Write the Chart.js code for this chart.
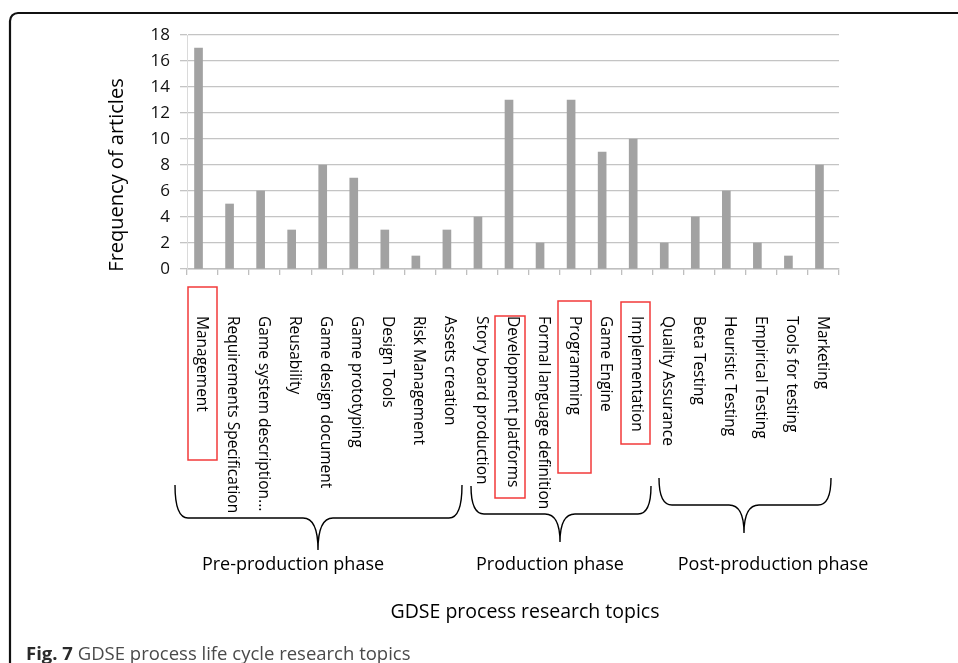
<!DOCTYPE html>
<html><head><meta charset="utf-8">
<script src="https://cdn.jsdelivr.net/npm/chart.js@4.4.1/dist/chart.umd.min.js"></script>
<style>html,body{margin:0;padding:0;background:#fff;overflow:hidden}canvas{display:block}</style>
</head><body>
<canvas id="c" width="958" height="663"></canvas>
<script>
const categories = ["Management","Requirements Specification","Game system description...","Reusability","Game design document","Game prototyping","Design Tools","Risk Management","Assets creation","Story board production","Development platforms","Formal language definition","Programming","Game Engine","Implementation","Quality Assurance","Beta Testing","Heuristic Testing","Empirical Testing","Tools for testing","Marketing"];
const frequency = [17,5,6,3,8,7,3,1,3,4,13,2,13,9,10,2,4,6,2,1,8];
const yTicks = [0,2,4,6,8,10,12,14,16,18];
const highlighted = ["Management","Development platforms","Programming","Implementation"];
const phases = ["Pre-production phase","Production phase","Post-production phase"];
const yAxisTitle = "Frequency of articles";
const xAxisTitle = "GDSE process research topics";
const captionBold = "Fig. 7";
const captionText = "GDSE process life cycle research topics";

const FONT = "'Open Sans', 'DejaVu Sans', sans-serif";

const decor = {
  id: 'decor',
  afterDraw(chart) {
    const ctx = chart.ctx, xs = chart.scales.x;
    ctx.save();
    // rotated category labels
    ctx.fillStyle = '#000';
    ctx.font = "15.5px " + FONT;
    ctx.textAlign = 'left';
    ctx.textBaseline = 'middle';
    categories.forEach((c, i) => {
      const x = xs.getPixelForValue(i);
      ctx.save();
      ctx.translate(x, 316);
      ctx.rotate(Math.PI / 2);
      ctx.fillText(c, 0, 1);
      ctx.restore();
    });
    // red highlight boxes
    const boxes = {"Management":[188,287,217,460],"Development platforms":[495,316,525,498],"Programming":[558,301,591,473],"Implementation":[621,302,650,444]};
    ctx.strokeStyle = '#f23a3a';
    ctx.lineWidth = 1.5;
    highlighted.forEach(h => {
      const b = boxes[h];
      ctx.strokeRect(b[0], b[1], b[2]-b[0], b[3]-b[1]);
    });
    // braces
    const braces = [
      {l:175, r:462, top:485, y:518, tx:318, ty:550},
      {l:471, r:651, top:486, y:514, tx:560, ty:542},
      {l:659, r:831, top:478, y:505, tx:744, ty:533}
    ];
    ctx.strokeStyle = '#000';
    ctx.lineWidth = 1.4;
    braces.forEach(b => {
      const rad = 13;
      ctx.beginPath();
      ctx.moveTo(b.l, b.top);
      ctx.quadraticCurveTo(b.l, b.y, b.l + rad, b.y);
      ctx.lineTo(b.tx - 15, b.y);
      ctx.quadraticCurveTo(b.tx, b.y, b.tx, b.ty);
      ctx.quadraticCurveTo(b.tx, b.y, b.tx + 15, b.y);
      ctx.lineTo(b.r - rad, b.y);
      ctx.quadraticCurveTo(b.r, b.y, b.r, b.top);
      ctx.stroke();
    });
    // phase labels
    ctx.fillStyle = '#000';
    ctx.font = "18px " + FONT;
    ctx.textAlign = 'center';
    ctx.textBaseline = 'middle';
    const phaseX = [293, 550, 773];
    phases.forEach((p, i) => ctx.fillText(p, phaseX[i], 565));
    // x axis title
    ctx.font = "19.5px " + FONT;
    ctx.fillText(xAxisTitle, 525, 612);
    // y axis title
    ctx.save();
    ctx.translate(117, 175);
    ctx.rotate(-Math.PI / 2);
    ctx.font = "20px " + FONT;
    ctx.fillText(yAxisTitle, 0, 0);
    ctx.restore();
    // caption
    ctx.textAlign = 'left';
    ctx.textBaseline = 'alphabetic';
    ctx.fillStyle = '#2a2a2a';
    ctx.font = "bold 18.5px " + FONT;
    ctx.fillText(captionBold, 26, 660);
    const w = ctx.measureText(captionBold + " ").width;
    ctx.font = "18.5px " + FONT;
    ctx.fillStyle = '#4a4a4a';
    ctx.fillText(captionText, 26 + w, 660);
    // frame
    ctx.strokeStyle = '#111';
    ctx.lineWidth = 2.2;
    ctx.beginPath();
    ctx.moveTo(10, 663);
    ctx.lineTo(10, 21);
    ctx.arcTo(10, 13, 18, 13, 8);
    ctx.lineTo(958, 13);
    ctx.stroke();
    ctx.restore();
  }
};

new Chart(document.getElementById('c'), {
  type: 'bar',
  data: {
    labels: categories,
    datasets: [
      {label: 'Frequency', data: frequency, backgroundColor: '#a2a2a2', barThickness: 8},
      {label: 'spacer', data: []}
    ]
  },
  options: {
    responsive: false,
    animation: false,
    devicePixelRatio: 1,
    layout: {padding: {top: 35, left: 0, right: 119, bottom: 0}},
    plugins: {legend: {display: false}, tooltip: {enabled: false}},
    scales: {
      x: {
        grid: {display: true, drawOnChartArea: false, drawTicks: true, tickLength: 6, color: '#bfbfbf', lineWidth: 1.3, offset: true},
        border: {display: true, color: '#bfbfbf', width: 1.5},
        ticks: {display: false},
        afterFit(s) { s.height = 663 - 269; }
      },
      y: {
        min: 0, max: 18,
        afterBuildTicks(s) { s.ticks = yTicks.map(v => ({value: v})); },
        ticks: {padding: 10, color: '#111', font: {family: FONT, size: 17}},
        grid: {color: '#c4c4c4', lineWidth: 1.3, tickLength: 7, drawTicks: true},
        border: {display: true, color: '#dadada', width: 1},
        afterFit(s) { s.width = 187; }
      }
    }
  },
  plugins: [decor]
});
</script>
</body></html>
